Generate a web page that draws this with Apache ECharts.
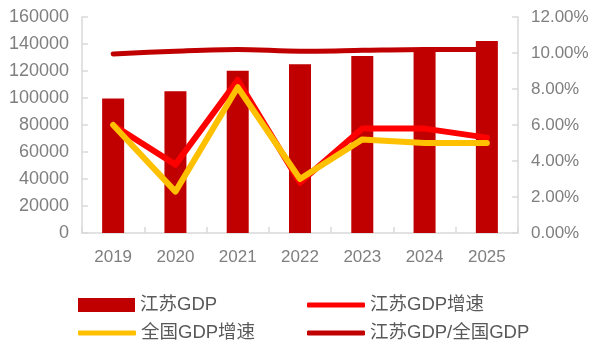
<!DOCTYPE html>
<html>
<head>
<meta charset="utf-8">
<script src="https://cdn.jsdelivr.net/npm/echarts@6/dist/echarts.min.js"></script>
<style>
  html, body { margin: 0; padding: 0; background: #fff; }
  #chart { width: 596px; height: 345px; }
</style>
</head>
<body>
<div id="chart"></div>
<script>
// Years on the category axis
const years = ['2019', '2020', '2021', '2022', '2023', '2024', '2025'];
// Jiangsu GDP (100 million yuan)
const jiangsuGdp = [99600, 105000, 120100, 125000, 131200, 137000, 142300];
// Jiangsu GDP growth (%)
const jiangsuGrowth = [6.0, 3.8, 8.5, 2.8, 5.8, 5.8, 5.3];
// National GDP growth (%)
const nationalGrowth = [6.0, 2.3, 8.1, 3.0, 5.2, 5.0, 5.0];
// Jiangsu share of national GDP (%)
const jiangsuShare = [9.95, 10.1, 10.2, 10.1, 10.15, 10.2, 10.2];

const names = ['江苏GDP', '江苏GDP增速', '全国GDP增速', '江苏GDP/全国GDP'];

const font = '"Liberation Sans", Arial, "Noto Sans CJK SC", sans-serif';
const axisGray = '#D9D9D9';
const labelGray = '#7F7F7F';

function legendItem(name, left, top, icon, w, h) {
  return {
    data: [name],
    left: left, top: top,
    padding: 0,
    icon: icon,
    itemWidth: w, itemHeight: h,
    itemGap: 0,
    selectedMode: false,
    textStyle: { fontFamily: font, fontSize: 18.5, color: '#595959', padding: [0, 0, 0, 0], lineHeight: 20 }
  };
}

const chart = echarts.init(document.getElementById('chart'), null, { renderer: 'canvas' });
chart.setOption({
  animation: false,
  backgroundColor: '#ffffff',
  grid: { left: 82, right: 78, top: 17, bottom: 112, containLabel: false },
  legend: [
    legendItem(names[0], 78, 295, 'rect', 57, 14),
    legendItem(names[1], 307, 295, 'roundRect', 58, 5),
    legendItem(names[2], 78, 323, 'roundRect', 58, 5),
    legendItem(names[3], 307, 323, 'roundRect', 58, 5)
  ],
  xAxis: {
    type: 'category',
    data: years,
    axisLine: { lineStyle: { color: axisGray, width: 1.5 } },
    axisTick: { show: true, inside: true, length: 6, alignWithLabel: false, lineStyle: { color: axisGray, width: 1.5 } },
    axisLabel: { fontFamily: font, fontSize: 17, color: labelGray, margin: 16 }
  },
  yAxis: [
    {
      type: 'value', min: 0, max: 160000, interval: 20000,
      axisLine: { show: true, lineStyle: { color: axisGray, width: 1.5 } },
      axisTick: { show: true, inside: true, length: 6, lineStyle: { color: axisGray, width: 1.5 } },
      splitLine: { show: false },
      axisLabel: { fontFamily: font, fontSize: 18, color: labelGray, margin: 13,
        formatter: v => String(v) }
    },
    {
      type: 'value', min: 0, max: 12, interval: 2,
      position: 'right',
      axisLine: { show: true, lineStyle: { color: axisGray, width: 1.5 } },
      axisTick: { show: true, inside: true, length: 6, lineStyle: { color: axisGray, width: 1.5 } },
      splitLine: { show: false },
      axisLabel: { fontFamily: font, fontSize: 17, color: labelGray, margin: 13,
        formatter: v => v.toFixed(2) + '%' }
    }
  ],
  series: [
    {
      name: names[0], type: 'bar', data: jiangsuGdp, barWidth: 22,
      itemStyle: { color: '#C00000' }, z: 1
    },
    {
      name: names[1], type: 'line', yAxisIndex: 1, data: jiangsuGrowth,
      symbol: 'none', z: 3,
      itemStyle: { color: '#FF0000' },
      lineStyle: { color: '#FF0000', width: 6, cap: 'round', join: 'round' }
    },
    {
      name: names[2], type: 'line', yAxisIndex: 1, data: nationalGrowth,
      symbol: 'none', z: 4,
      itemStyle: { color: '#FFC000' },
      lineStyle: { color: '#FFC000', width: 6, cap: 'round', join: 'round' }
    },
    {
      name: names[3], type: 'line', yAxisIndex: 1, data: jiangsuShare,
      symbol: 'none', z: 5, smooth: 0.3,
      itemStyle: { color: '#C00000' },
      lineStyle: { color: '#C00000', width: 5, cap: 'round', join: 'round' }
    }
  ]
});
</script>
</body>
</html>
